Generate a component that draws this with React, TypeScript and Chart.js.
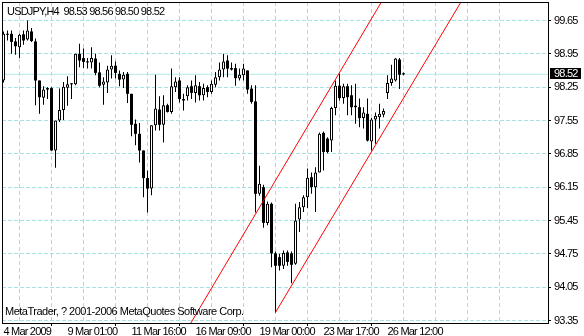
import React, { useEffect, useRef } from 'react';
import { Chart, registerables } from 'chart.js';

Chart.register(...registerables);

const symbolTitle = 'USDJPY,H4  98.53 98.56 98.50 98.52';
const copyrightText = 'MetaTrader, ? 2001-2006 MetaQuotes Software Corp.';

const opens = [
  98.39, 99.37, 99.37, 99.21, 99.09, 99.36, 99.25, 99.42, 99.21, 98.39,
  98.03, 98.23, 98.23, 96.92, 97.55, 97.77, 98.24, 98.32, 98.31, 98.95,
  98.86, 98.78, 98.77, 98.85, 98.56, 98.30, 98.35, 98.62, 98.70, 98.53,
  98.41, 98.53, 98.11, 97.48, 97.27, 96.92, 96.34, 96.12, 97.45, 97.78,
  97.46, 97.87, 97.73, 98.25, 98.39, 98.00, 98.06, 98.27, 98.13, 98.27,
  98.08, 98.25, 98.15, 98.30, 98.46, 98.62, 98.81, 98.65, 98.65, 98.43,
  98.50, 98.60, 98.22, 97.95, 96.01, 96.15, 95.40, 95.80, 94.76, 94.68,
  94.50, 94.78, 94.76, 94.54, 95.47, 95.73, 95.94, 96.36, 96.15, 96.46,
  97.29, 97.17, 97.13, 97.81, 98.28, 98.02, 98.27, 98.08, 97.86, 97.83,
  97.60, 97.69, 97.11, 97.57, 97.62, 97.67, 98.13, 98.34, 98.39, 98.83,
  98.53,
];
const highs = [
  99.42, 99.44, 99.44, 99.28, 99.37, 99.44, 99.65, 99.49, 99.27, 98.39,
  98.27, 98.25, 98.25, 97.55, 98.22, 98.36, 98.48, 98.33, 98.95, 99.16,
  99.06, 98.86, 99.09, 98.95, 98.77, 98.46, 98.70, 98.92, 98.79, 98.60,
  98.57, 98.57, 98.11, 97.57, 97.50, 96.92, 96.50, 97.45, 98.51, 98.06,
  98.08, 97.90, 98.64, 98.46, 98.46, 98.11, 98.29, 98.39, 98.50, 98.36,
  98.32, 98.29, 98.39, 98.57, 98.77, 98.95, 98.92, 98.77, 98.74, 98.64,
  98.74, 98.60, 98.29, 98.29, 96.60, 96.20, 95.85, 95.83, 94.80, 94.75,
  94.82, 94.82, 94.80, 95.80, 95.84, 95.98, 96.54, 96.46, 96.57, 97.30,
  97.32, 97.20, 97.84, 98.39, 98.53, 98.32, 98.32, 98.29, 98.32, 98.01,
  97.83, 98.01, 97.60, 97.72, 97.90, 97.80, 98.50, 98.72, 98.86, 98.86,
  98.56,
];
const lows = [
  98.35, 99.23, 98.95, 98.93, 98.86, 99.14, 99.23, 99.20, 97.87, 97.69,
  97.88, 98.00, 96.92, 96.56, 97.52, 97.56, 97.86, 98.00, 98.29, 98.67,
  98.65, 98.64, 98.64, 98.50, 98.25, 97.88, 98.13, 98.43, 98.43, 98.27,
  98.23, 97.92, 97.22, 97.03, 96.67, 95.94, 95.62, 95.98, 97.34, 97.34,
  97.09, 97.72, 97.69, 98.15, 97.93, 97.76, 97.97, 98.00, 97.93, 97.97,
  97.97, 98.04, 98.11, 98.25, 98.39, 98.46, 98.46, 98.60, 98.28, 98.39,
  98.39, 98.11, 97.90, 95.62, 95.97, 95.30, 95.35, 94.47, 93.52, 94.40,
  94.43, 94.50, 94.13, 94.52, 95.21, 95.63, 95.71, 96.01, 95.63, 96.46,
  96.50, 96.86, 96.89, 97.66, 97.97, 97.90, 97.66, 97.66, 97.48, 97.41,
  97.38, 97.11, 96.92, 97.06, 97.38, 97.62, 98.00, 98.28, 98.37, 98.21,
  98.50,
];
const closes = [
  99.37, 99.35, 99.20, 99.11, 99.35, 99.23, 99.44, 99.22, 98.39, 98.04,
  98.20, 98.20, 96.92, 97.55, 97.77, 98.26, 98.31, 98.31, 98.95, 98.81,
  98.78, 98.77, 98.86, 98.55, 98.28, 98.37, 98.62, 98.70, 98.55, 98.41,
  98.51, 98.11, 97.46, 97.27, 96.92, 96.34, 96.12, 97.45, 97.80, 97.46,
  97.87, 97.73, 98.27, 98.37, 98.00, 97.97, 98.25, 98.13, 98.29, 98.08,
  98.23, 98.15, 98.32, 98.46, 98.62, 98.79, 98.64, 98.62, 98.44, 98.51,
  98.64, 98.20, 97.94, 96.01, 96.22, 95.40, 95.80, 94.76, 94.50, 94.50,
  94.77, 94.58, 94.52, 95.45, 95.73, 95.94, 96.35, 96.15, 96.46, 97.27,
  96.89, 96.89, 97.81, 98.28, 98.02, 98.27, 98.04, 97.83, 97.83, 97.60,
  97.72, 97.13, 97.57, 97.65, 97.69, 97.75, 98.34, 98.43, 98.85, 98.51,
  98.52,
];

const yTickValues = [93.35, 94.05, 94.75, 95.45, 96.15, 96.85, 97.55, 98.25, 98.95, 99.65];
const xGridBars = [0, 8, 16, 24, 32, 40, 48, 56, 64, 72, 80, 88, 96, 104, 112, 120, 128, 136];
const xLabelBars = [0, 16, 32, 48, 64, 80, 96];
const xLabelTexts = ['4 Mar 2009', '9 Mar 01:00', '11 Mar 16:00', '16 Mar 09:00', '19 Mar 00:00', '23 Mar 17:00', '26 Mar 12:00'];

const upperChannel = [{ x: 40, y: 92.33 }, { x: 100, y: 100.82 }];
const lowerChannel = [{ x: 68, y: 93.52 }, { x: 120, y: 100.83 }];
const currentPrice = 98.52;
const priceLine = [{ x: -2, y: currentPrice }, { x: 140, y: currentPrice }];

const FONT = "'Liberation Sans Narrow', 'Liberation Sans', Arial, sans-serif";
const TIGHT = '-0.8px';

function setSpacing(ctx: any, v: string) {
  try {
    ctx.letterSpacing = v;
  } catch (e) {
    /* ignore */
  }
}

export default function App() {
  const ref = useRef<HTMLCanvasElement>(null);

  useEffect(() => {
    document.body.style.margin = '0';
    const canvas = ref.current;
    if (!canvas) return;

    const wickData = highs.map((h, i) => ({ x: i, y: [lows[i], h] }));
    const bodyData = opens.map((o, i) => ({ x: i, y: [o, closes[i]] }));
    const bodyFill = opens.map((o, i) => (closes[i] >= o ? '#ffffff' : '#000000'));
    const bodyBorder = opens.map((o, i) => (closes[i] >= o ? 1 : 0));

    const overlay = {
      id: 'mtOverlay',
      beforeDraw(chart: any) {
        setSpacing(chart.ctx, TIGHT);
      },
      afterDraw(chart: any) {
        const ctx = chart.ctx;
        const ya = chart.scales.y;
        ctx.save();
        ctx.strokeStyle = '#000';
        ctx.lineWidth = 1;
        ctx.setLineDash([]);
        const a = chart.chartArea;
        ctx.strokeRect(a.left + 0.5, a.top + 0.5, a.right - a.left, a.bottom - a.top);
        ctx.font = `11px ${FONT}`;
        ctx.fillStyle = '#000';
        ctx.textBaseline = 'alphabetic';
        ctx.textAlign = 'left';
        setSpacing(ctx, TIGHT);
        ctx.fillText(symbolTitle, 7, 15);
        setSpacing(ctx, '-0.5px');
        ctx.fillText(copyrightText, 5, 315);
        setSpacing(ctx, TIGHT);
        const py = ya.getPixelForValue(currentPrice);
        ctx.fillStyle = '#000';
        ctx.fillRect(a.right + 2, Math.round(py) - 6, 31, 11);
        ctx.fillStyle = '#fff';
        ctx.textBaseline = 'middle';
        ctx.fillText(currentPrice.toFixed(2), a.right + 6, py);
        ctx.restore();
      },
    };

    const chart = new Chart(canvas, {
      type: 'bar',
      data: {
        datasets: [
          {
            type: 'line',
            data: priceLine,
            borderColor: '#b4e8e8',
            borderWidth: 1,
            pointRadius: 0,
            fill: false,
            order: 10,
            clip: 0,
          } as any,
          {
            type: 'bar',
            data: wickData,
            backgroundColor: '#000',
            borderWidth: 0,
            barThickness: 1,
            grouped: false,
            inflateAmount: 0,
            order: 5,
          } as any,
          {
            type: 'bar',
            data: bodyData,
            backgroundColor: bodyFill,
            borderColor: '#000',
            borderWidth: bodyBorder,
            borderSkipped: false,
            barThickness: 3,
            minBarLength: 1,
            grouped: false,
            inflateAmount: 0,
            order: 4,
          } as any,
          {
            type: 'line',
            data: upperChannel,
            borderColor: '#ff0000',
            borderWidth: 1,
            pointRadius: 0,
            fill: false,
            order: 1,
            clip: 0,
          } as any,
          {
            type: 'line',
            data: lowerChannel,
            borderColor: '#ff0000',
            borderWidth: 1,
            pointRadius: 0,
            fill: false,
            order: 1,
            clip: 0,
          } as any,
        ],
      },
      options: {
        responsive: false,
        animation: false,
        devicePixelRatio: 1,
        events: [],
        layout: { padding: { left: 2, top: 2, right: 0, bottom: 0 } },
        plugins: { legend: { display: false }, tooltip: { enabled: false }, title: { display: false } },
        scales: {
          x: {
            type: 'linear',
            min: -0.375,
            max: 136.125,
            offset: false,
            afterBuildTicks: (s: any) => {
              s.ticks = xGridBars.map((v) => ({ value: v }));
            },
            afterFit: (s: any) => {
              s.height = 13;
              s.paddingLeft = 0;
              s.paddingRight = 0;
            },
            ticks: {
              autoSkip: false,
              maxRotation: 0,
              minRotation: 0,
              align: 'start',
              padding: -1,
              color: '#000',
              font: { family: FONT, size: 11 },
              callback: (v: any) => {
                const k = xLabelBars.indexOf(Number(v));
                return k >= 0 ? xLabelTexts[k] : '';
              },
            },
            grid: {
              color: (ctx: any) => {
                const v = ctx.tick ? ctx.tick.value : -1;
                return v === 0 || v === 136 ? 'rgba(0,0,0,0)' : '#cccccc';
              },
              lineWidth: 1,
              tickLength: 3,
              tickColor: (ctx: any) => {
                const v = ctx.tick ? ctx.tick.value : -1;
                return xLabelBars.indexOf(v) >= 0 ? '#000' : 'rgba(0,0,0,0)';
              },
              tickBorderDash: [],
            },
            border: { display: false, dash: [4, 3] },
          },
          y: {
            type: 'linear',
            position: 'right',
            min: 93.2975,
            max: 100.0385,
            afterBuildTicks: (s: any) => {
              s.ticks = yTickValues.map((v) => ({ value: v }));
            },
            afterFit: (s: any) => {
              s.width = 36;
              s.paddingTop = 0;
              s.paddingBottom = 0;
            },
            ticks: {
              autoSkip: false,
              padding: 3,
              color: '#000',
              font: { family: FONT, size: 11 },
              callback: (v: any) => Number(v).toFixed(2),
            },
            grid: {
              color: '#a6e2e2',
              lineWidth: 1,
              tickLength: 3,
              tickColor: '#000',
              tickBorderDash: [],
            },
            border: { display: false, dash: [4, 2] },
          },
        },
      } as any,
      plugins: [overlay],
    });

    return () => chart.destroy();
  }, []);

  return (
    <div style={{ width: 584, height: 336, background: '#fff' }}>
      <canvas ref={ref} width={584} height={336} style={{ display: 'block' }} />
    </div>
  );
}
